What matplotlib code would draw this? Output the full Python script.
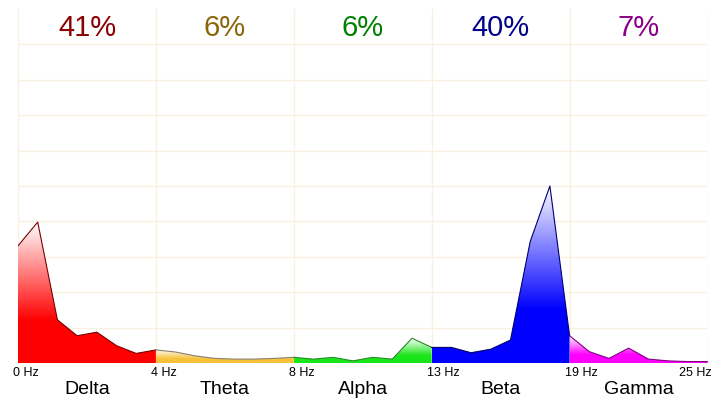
import numpy as np
import matplotlib
matplotlib.use('Agg')
import matplotlib.pyplot as plt
from matplotlib.colors import to_rgb

# spectrum samples, 7 steps per band, shared band edges (36 points)
power = [3.31, 3.98, 1.22, 0.77, 0.87, 0.49, 0.27, 0.37,
         0.31, 0.20, 0.13, 0.11, 0.11, 0.13, 0.16,
         0.11, 0.16, 0.06, 0.16, 0.11, 0.70, 0.44,
         0.44, 0.29, 0.39, 0.65, 3.43, 5.00, 0.77,
         0.32, 0.13, 0.42, 0.11, 0.06, 0.04, 0.04]
band_names = ['Delta', 'Theta', 'Alpha', 'Beta', 'Gamma']
band_pct = ['41%', '6%', '6%', '40%', '7%']
edge_labels = ['0 Hz', '4 Hz', '8 Hz', '13 Hz', '19 Hz', '25 Hz']
fill_colors = ['#ff0000', '#f6c23a', '#19e619', '#0000ff', '#ff00ff']
line_colors = ['#7a0000', '#8a8070', '#2a8a2a', '#000070', '#800080']
pct_colors = ['#8b0000', '#8b6508', '#008000', '#00008b', '#8b008b']

steps = 7
x = np.arange(len(power))
y = np.array(power)

fig = plt.figure(figsize=(7.27, 4.05), dpi=100)
ax = fig.add_axes([18 / 727, 42 / 405, 689.5 / 727, 354 / 405])
ax.set_xlim(0, 35)
ax.set_ylim(0, 10)
ax.axis('off')

grid_col = '#f8f1e0'
for g in range(1, 10):
    ax.axhline(g, color=grid_col, lw=1, zorder=0)
for b in range(6):
    ax.axvline(b * steps, color=grid_col, lw=1, zorder=0)

for i in range(5):
    s = slice(i * steps, (i + 1) * steps + 1)
    bx, by = x[s], y[s]
    vmax = by.max()
    poly = ax.fill_between(bx, 0, by, color='none', lw=0)
    ys = np.linspace(0, vmax, 200)
    w = np.clip((ys / vmax - 0.3) / 0.7, 0, 1)[:, None]
    c = np.array(to_rgb(fill_colors[i]))[None, :]
    img = (1 - w) * c + w * np.ones((1, 3))
    img = np.repeat(img[:, None, :], 2, axis=1)
    im = ax.imshow(img, extent=[bx[0], bx[-1], 0, vmax], origin='lower',
                   aspect='auto', zorder=2, interpolation='bilinear')
    im.set_clip_path(poly.get_paths()[0], transform=ax.transData)
    ax.plot(bx, by, color=line_colors[i], lw=0.8, zorder=3)
    ax.text((i + 0.5) * steps, 9.45, band_pct[i], color=pct_colors[i],
            fontsize=21, ha='center', va='center', family='Liberation Sans')
    ax.text((i + 0.5) * steps, -0.75, band_names[i], fontsize=14,
            ha='center', va='center', family='Liberation Sans')

for b, lab in enumerate(edge_labels):
    if b < 5:
        ax.text(b * steps - 0.25, -0.27, lab, fontsize=9, ha='left',
                va='center', family='Liberation Sans')
    else:
        ax.text(b * steps + 0.2, -0.27, lab, fontsize=9, ha='right',
                va='center', family='Liberation Sans')

fig.savefig('out.png', dpi=100)
